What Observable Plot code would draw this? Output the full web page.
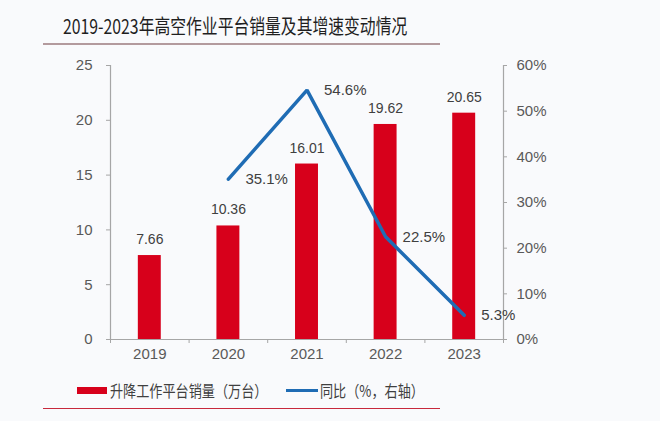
<!DOCTYPE html>
<html>
<head>
<meta charset="utf-8">
<script src="https://cdn.jsdelivr.net/npm/d3@7"></script>
<script src="https://cdn.jsdelivr.net/npm/@observablehq/plot@0.6"></script>
<style>
  html, body { margin: 0; padding: 0; background: #f9fafc; }
  #wrap { position: relative; width: 660px; height: 421px; overflow: hidden; background: #f9fafc; }
  #title { position: absolute; left: 63px; top: 12px; font-family: "Noto Sans CJK SC", sans-serif; font-size: 20px; color: #1f1f1f; white-space: nowrap; transform: scaleX(0.79); transform-origin: left center; line-height: 28px; }
  #titleRule { position: absolute; left: 43px; top: 43px; width: 397px; height: 2px; background: #b39a9d; }
  #chart { position: absolute; left: 0; top: 50px; }
  .leg { position: absolute; top: 378px; font-family: "Noto Sans CJK SC", sans-serif; font-size: 16px; color: #404040; white-space: nowrap; transform: scaleX(0.82); transform-origin: left center; line-height: 24px; }
  #legBar { position: absolute; left: 77px; top: 387px; width: 30px; height: 7px; background: #d7001b; }
  #legLine { position: absolute; left: 286px; top: 389px; width: 32px; height: 3px; background: #1f6cb4; }
  #bottomRule { position: absolute; left: 43px; top: 408px; width: 397px; height: 1px; background: #c8283c; }
</style>
</head>
<body>
<div id="wrap">
  <div id="title">2019-2023年高空作业平台销量及其增速变动情况</div>
  <div id="titleRule"></div>
  <div id="chart"></div>
  <div id="legBar"></div>
  <div class="leg" style="left:110px">升降工作平台销量（万台）</div>
  <div id="legLine"></div>
  <div class="leg" style="left:320px">同比（%，右轴）</div>
  <div id="bottomRule"></div>
</div>
<script>
const years = [2019, 2020, 2021, 2022, 2023];
const sales = [7.66, 10.36, 16.01, 19.62, 20.65];
const growth = [null, 35.1, 54.6, 22.5, 5.3];
const leftTicks = [0, 5, 10, 15, 20, 25];
const rightTicks = [0, 10, 20, 30, 40, 50, 60];

const salesMax = 25, pctMax = 60;
const toLeft = p => p / pctMax * salesMax;
const barHalf = 0.146;

const table = years.map((year, i) => ({year, sales: sales[i], growth: growth[i]}));
const growthData = table.filter(d => d.growth != null);
const bounds = [years[0] - 0.5, ...years.map(y => y + 0.5)];

const axisColor = "#a6a6a6";
const labelColor = "#595959";

const chart = Plot.plot({
  width: 660,
  height: 320,
  marginTop: 15,
  marginBottom: 31,
  marginLeft: 110,
  marginRight: 157,
  style: {background: "transparent", fontFamily: "'Liberation Sans', Arial, sans-serif", fontSize: "15px"},
  x: {domain: [bounds[0], bounds[bounds.length - 1]], axis: null},
  y: {domain: [0, salesMax], axis: null},
  marks: [
    Plot.rectY(table, {x1: d => d.year - barHalf, x2: d => d.year + barHalf, y: "sales", fill: "#d7001b"}),
    Plot.ruleX([bounds[0]], {stroke: axisColor, strokeWidth: 1.2}),
    Plot.ruleX([bounds[bounds.length - 1]], {stroke: axisColor, strokeWidth: 1.2}),
    Plot.ruleY([0], {stroke: axisColor, strokeWidth: 1.2}),
    Plot.axisY(leftTicks, {anchor: "left", label: null, tickSize: 4, tickPadding: 14, stroke: axisColor, fill: labelColor, fontSize: 15, tickFormat: d => String(d)}),
    Plot.axisY(rightTicks.map(toLeft), {anchor: "right", label: null, tickSize: 3, tickPadding: 10, stroke: axisColor, fill: labelColor, fontSize: 15, tickFormat: d => Math.round(d / salesMax * pctMax) + "%"}),
    Plot.axisX(bounds, {anchor: "bottom", label: null, tickSize: 4, stroke: axisColor, tickFormat: () => ""}),
    Plot.axisX(years, {anchor: "bottom", label: null, tickSize: 0, tickPadding: 9, fill: labelColor, fontSize: 15, tickFormat: d => String(d)}),
    Plot.line(growthData, {x: "year", y: d => toLeft(d.growth), stroke: "#1f6cb4", strokeWidth: 3.5, strokeLinejoin: "miter"}),
    Plot.text(table, {x: "year", y: "sales", text: d => d.sales.toFixed(2), dy: -16, fontSize: 14, fill: "#404040"}),
    Plot.text(growthData, {x: "year", y: d => toLeft(d.growth), text: d => d.growth.toFixed(1) + "%", textAnchor: "start", dx: 17, fontSize: 15, fill: "#404040"})
  ]
});
document.getElementById("chart").appendChild(chart);
</script>
</body>
</html>
